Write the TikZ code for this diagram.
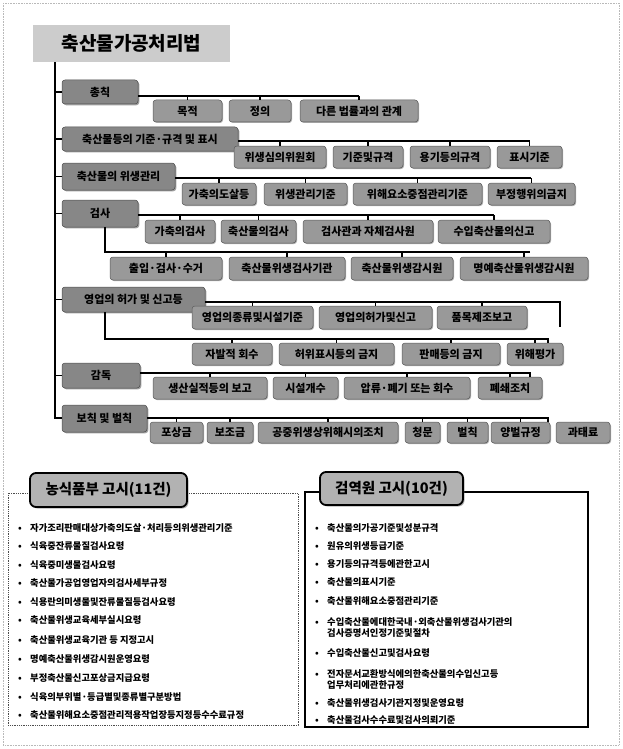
\documentclass[tikz,border=0pt]{standalone}
\usepackage{fontspec}
\setmainfont{Noto Sans CJK KR}
\usetikzlibrary{shadows}
\newcommand\mybox[7]{\node[#1, minimum width={(#5-#3)*1pt}, minimum height={(#6-#4)*1pt}] (#2) at ({(#3+#5)/2},{(#4+#6)/2}) {#7};}
\newcommand\bul{\makebox[12pt][l]{•}}
\begin{document}
\begin{tikzpicture}[x=1pt,y=-1pt,
  conn/.style={line width=1.6pt, black},
  chap/.style={rounded corners=3pt, fill=black!47, draw=black!70, line width=0.5pt, inner sep=0pt,
    font=\bfseries\fontsize{11}{12}\selectfont,
    drop shadow={shadow xshift=1.3pt, shadow yshift=-1.3pt, fill=black!75}},
  item/.style={rounded corners=3pt, fill=black!40, draw=black!65, line width=0.5pt, inner sep=0pt,
    font=\bfseries\fontsize{11}{12}\selectfont,
    drop shadow={shadow xshift=1pt, shadow yshift=-1pt, fill=black!65}},
  ttl/.style={fill=black!20, inner sep=0pt, font=\bfseries\fontsize{19}{22}\selectfont},
  hdr/.style={rounded corners=6pt, fill=black!30, draw=black, line width=1.8pt, inner sep=0pt,
    font=\bfseries\fontsize{14.5}{16}\selectfont,
    drop shadow={shadow xshift=1.5pt, shadow yshift=-1.5pt, fill=black!60}},
  litem/.style={anchor=west, inner sep=0pt, align=left, font=\bfseries\fontsize{9.3}{11.5}\selectfont},
  pageb/.style={gray!55, densely dotted, line width=0.6pt}
]
\useasboundingbox (0,0) rectangle (622,749);
\draw[pageb] (3,3) rectangle (619,745);

% bottom panels
\draw[black!70, densely dotted, line width=0.8pt] (8,493) rectangle (298,725);
\draw[black, line width=1.6pt] (305,492) rectangle (588,727);

% title
\mybox{ttl}{title}{33}{25}{230}{62}{축산물가공처리법}

% chapters
\mybox{chap}{c1}{62}{80}{138}{104}{총칙}
\mybox{chap}{c2}{62}{127}{238}{151}{축산물등의 기준·규격 및 표시}
\mybox{chap}{c3}{62}{163}{175}{190}{축산물의 위생관리}
\mybox{chap}{c4}{62}{200}{138}{227}{검사}
\mybox{chap}{c5}{62}{287}{205}{312}{영업의 허가 및 신고등}
\mybox{chap}{c6}{62}{363}{140}{388}{감독}
\mybox{chap}{c7}{62}{405}{147}{432}{보칙 및 벌칙}

% items
\mybox{item}{i11}{153}{100}{222}{122}{목적}
\mybox{item}{i12}{229}{100}{291}{122}{정의}
\mybox{item}{i13}{300}{100}{418}{122}{다른 법률과의 관계}

\mybox{item}{i21}{234}{146}{326}{168}{위생심의위원회}
\mybox{item}{i22}{333}{146}{403}{168}{기준및규격}
\mybox{item}{i23}{410}{146}{490}{168}{용기등의규격}
\mybox{item}{i24}{497}{146}{562}{168}{표시기준}

\mybox{item}{i31}{182}{183}{256}{205}{가축의도살등}
\mybox{item}{i32}{264}{183}{347}{205}{위생관리기준}
\mybox{item}{i33}{353}{183}{482}{205}{위해요소중점관리기준}
\mybox{item}{i34}{488}{183}{575}{205}{부정행위의금지}

\mybox{item}{i41}{145}{220}{215}{243}{가축의검사}
\mybox{item}{i42}{221}{220}{296}{243}{축산물의검사}
\mybox{item}{i43}{303}{220}{433}{243}{검사관과 자체검사원}
\mybox{item}{i44}{438}{220}{550}{243}{수입축산물의신고}
\mybox{item}{i45}{110}{257}{222}{280}{출입·검사·수거}
\mybox{item}{i46}{229}{257}{345}{280}{축산물위생검사기관}
\mybox{item}{i47}{351}{257}{453}{280}{축산물위생감시원}
\mybox{item}{i48}{460}{257}{588}{280}{명예축산물위생감시원}

\mybox{item}{i51}{192}{306}{313}{329}{영업의종류및시설기준}
\mybox{item}{i52}{319}{306}{432}{329}{영업의허가및신고}
\mybox{item}{i53}{437}{306}{527}{329}{품목제조보고}
\mybox{item}{i54}{192}{343}{272}{365}{자발적 회수}
\mybox{item}{i55}{279}{343}{394}{365}{허위표시등의 금지}
\mybox{item}{i56}{402}{343}{500}{365}{판매등의 금지}
\mybox{item}{i57}{507}{343}{563}{365}{위해평가}

\mybox{item}{i61}{153}{377}{267}{399}{생산실적등의 보고}
\mybox{item}{i62}{273}{377}{338}{399}{시설개수}
\mybox{item}{i63}{344}{377}{470}{399}{압류·폐기 또는 회수}
\mybox{item}{i64}{478}{377}{542}{399}{폐쇄조치}

\mybox{item}{i71}{150}{422}{203}{443}{포상금}
\mybox{item}{i72}{207}{422}{253}{443}{보조금}
\mybox{item}{i73}{258}{422}{398}{443}{공중위생상위해시의조치}
\mybox{item}{i74}{405}{422}{440}{443}{청문}
\mybox{item}{i75}{447}{422}{488}{443}{벌칙}
\mybox{item}{i76}{491}{422}{550}{443}{양벌규정}
\mybox{item}{i77}{556}{422}{610}{443}{과태료}

% trunk
\coordinate (tb) at (55,418);
\draw[conn] (title.south -| tb) -- (tb) -- (c7.west |- tb);
\foreach \c in {c1,c2,c3,c4,c5,c6} \draw[conn] (\c.west -| tb) -- (\c.west);

% row connectors
\coordinate (e1) at (359,96);
\draw[conn] (c1.east |- e1) -- (e1);
\foreach \n in {i11,i12,i13} \draw[conn] (\n.north |- e1) -- (\n.north);

\coordinate (e2) at (530,141);
\draw[conn] (c2.east |- e2) -- (e2);
\foreach \n in {i21,i22,i23,i24} \draw[conn] (\n.north |- e2) -- (\n.north);

\coordinate (e3) at (531,178);
\draw[conn] (c3.east |- e3) -- (e3);
\foreach \n in {i31,i32,i33,i34} \draw[conn] (\n.north |- e3) -- (\n.north);

\coordinate (e4) at (494,215);
\draw[conn] (c4.east |- e4) -- (e4);
\foreach \n in {i41,i42,i43,i44} \draw[conn] (\n.north |- e4) -- (\n.north);
\coordinate (k4) at (105,252);
\coordinate (e4b) at (530,252);
\draw[conn] (c4.south -| k4) -- (k4) -- (e4b);
\foreach \n in {i45,i46,i47,i48} \draw[conn] (\n.north |- e4b) -- (\n.north);

\coordinate (e5) at (560,302);
\coordinate (e5d) at (560,327);
\draw[conn] (c5.east |- e5) -- (e5) -- (e5d);
\foreach \n in {i51,i52,i53} \draw[conn] (\n.north |- e5) -- (\n.north);
\coordinate (k5) at (105,339);
\coordinate (e5b) at (548,339);
\draw[conn] (c5.south -| k5) -- (k5) -- (e5b) -- (e5b |- i57.north);
\foreach \n in {i54,i55,i56,i57} \draw[conn] (\n.north |- e5b) -- (\n.north);

\coordinate (e6) at (530,373);
\draw[conn] (c6.east |- e6) -- (e6) -- (e6 |- i64.north);
\foreach \n in {i61,i62,i63,i64} \draw[conn] (\n.north |- e6) -- (\n.north);

\coordinate (e7) at (548,418);
\draw[conn] (c7.east |- e7) -- (e7) -- (e7 |- i76.north);
\foreach \n in {i71,i72,i73,i74,i75,i76} \draw[conn] (\n.north |- e7) -- (\n.north);

% panel headers
\mybox{hdr}{h1}{30}{473}{187}{507}{농식품부 고시(11건)}
\mybox{hdr}{h2}{320}{472}{463}{505}{검역원 고시(10건)}

% left list
\node[litem] (l1) at (18,528) {\bul 자가조리판매대상가축의도살·처리등의위생관리기준};
\node[litem] (l2) at (18,546) {\bul 식육중잔류물질검사요령};
\node[litem] (l3) at (18,565) {\bul 식육중미생물검사요령};
\node[litem] (l4) at (18,583) {\bul 축산물가공업영업자의검사세부규정};
\node[litem] (l5) at (18,602) {\bul 식용란의미생물및잔류물질등검사요령};
\node[litem] (l6) at (18,620) {\bul 축산물위생교육세부실시요령};
\node[litem] (l7) at (18,640) {\bul 축산물위생교육기관 등 지정고시};
\node[litem] (l8) at (18,659) {\bul 명예축산물위생감시원운영요령};
\node[litem] (l9) at (18,678) {\bul 부정축산물신고포상금지급요령};
\node[litem] (l10) at (18,697) {\bul 식육의부위별·등급별및종류별구분방법};
\node[litem] (l11) at (18,715) {\bul 축산물위해요소중점관리적용작업장등지정등수수료규정};

% right list
\node[litem] (r1) at (315,528) {\bul 축산물의가공기준및성분규격};
\node[litem] (r2) at (315,546) {\bul 원유의위생등급기준};
\node[litem] (r3) at (315,564) {\bul 용기등의규격등에관한고시};
\node[litem] (r4) at (315,582) {\bul 축산물의표시기준};
\node[litem] (r5) at (315,601) {\bul 축산물위해요소중점관리기준};
\node[litem] (r6) at (315,627.5) {\bul 수입축산물에대한국내·외축산물위생검사기관의\\\hspace*{12pt}검사증명서인정기준및절차};
\node[litem] (r7) at (315,653) {\bul 수입축산물신고및검사요령};
\node[litem] (r8) at (315,679.5) {\bul 전자문서교환방식에의한축산물의수입신고등\\\hspace*{12pt}업무처리에관한규정};
\node[litem] (r9) at (315,703) {\bul 축산물위생검사기관지정및운영요령};
\node[litem] (r10) at (315,720) {\bul 축산물검사수수료및검사의뢰기준};
\end{tikzpicture}
\end{document}
